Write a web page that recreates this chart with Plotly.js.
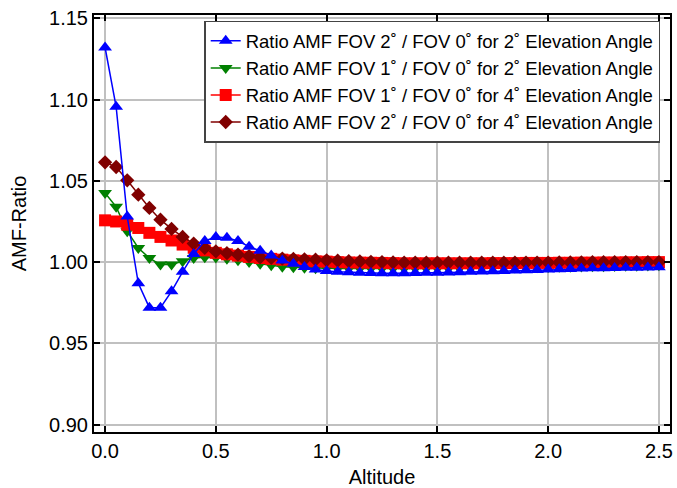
<!DOCTYPE html>
<html>
<head>
<meta charset="utf-8">
<script src="https://cdn.plot.ly/plotly-3.0.1.min.js"></script>
<style>html,body{margin:0;padding:0;background:#fff;}#chart{width:677px;height:488px;}</style>
</head>
<body>
<div id="chart"></div>
<script>
var altitude = [0.00,0.05,0.10,0.15,0.20,0.25,0.30,0.35,0.40,0.45,0.50,0.55,0.60,0.65,0.70,0.75,0.80,0.85,0.90,0.95,1.00,1.05,1.10,1.15,1.20,1.25,1.30,1.35,1.40,1.45,1.50,1.55,1.60,1.65,1.70,1.75,1.80,1.85,1.90,1.95,2.00,2.05,2.10,2.15,2.20,2.25,2.30,2.35,2.40,2.45,2.50];

var fov2_el2 = [1.132,1.0955,1.028,0.987,0.972,0.972,0.982,0.994,1.005,1.013,1.0155,1.015,1.013,1.0095,1.007,1.004,1.001,0.999,0.997,0.9955,0.9945,0.994,0.9937,0.9935,0.9933,0.9932,0.9932,0.9932,0.9933,0.9934,0.9935,0.9936,0.9938,0.994,0.9942,0.9944,0.9946,0.9948,0.995,0.9952,0.9954,0.9956,0.9958,0.996,0.9962,0.9963,0.9964,0.9965,0.9966,0.9967,0.9968];

var fov1_el2 = [1.0425,1.034,1.019,1.0087,1.0025,0.9985,0.9985,1.0005,1.0025,1.003,1.0028,1.002,1.0012,1.0,0.999,0.998,0.9972,0.9968,0.9965,0.9963,0.9962,0.9961,0.996,0.996,0.996,0.996,0.996,0.996,0.996,0.996,0.996,0.9961,0.9962,0.9963,0.9964,0.9965,0.9966,0.9967,0.9968,0.9969,0.997,0.9971,0.9972,0.9973,0.9974,0.9975,0.9976,0.9977,0.9978,0.9979,0.998];

var fov1_el4 = [1.0257,1.025,1.023,1.021,1.018,1.0155,1.0133,1.0108,1.0088,1.0072,1.0057,1.0048,1.004,1.0032,1.0025,1.002,1.0015,1.0011,1.0008,1.0005,1.0003,1.0,0.9998,0.9997,0.9996,0.9995,0.9994,0.9993,0.9993,0.9993,0.9993,0.9993,0.9993,0.9993,0.9993,0.9994,0.9994,0.9994,0.9995,0.9995,0.9995,0.9996,0.9996,0.9997,0.9997,0.9998,0.9998,0.9999,0.9999,1.0,1.0];

var fov2_el4 = [1.0614,1.0585,1.0503,1.0415,1.0333,1.0261,1.0204,1.0155,1.0114,1.0087,1.0066,1.0055,1.0046,1.0037,1.003,1.0026,1.0022,1.002,1.0017,1.0015,1.0011,1.0009,1.0006,1.0004,1.0002,1.0,0.9998,0.9997,0.9997,0.9996,0.9996,0.9996,0.9996,0.9996,0.9996,0.9996,0.9996,0.9997,0.9997,0.9997,0.9997,0.9998,0.9998,0.9998,0.9999,0.9999,0.9999,1.0,1.0,1.0,1.0];

var seriesNames = [
  "Ratio AMF FOV 2˚ / FOV 0˚ for 2˚ Elevation Angle",
  "Ratio AMF FOV 1˚ / FOV 0˚ for 2˚ Elevation Angle",
  "Ratio AMF FOV 1˚ / FOV 0˚ for 4˚ Elevation Angle",
  "Ratio AMF FOV 2˚ / FOV 0˚ for 4˚ Elevation Angle"
];

function tr(y, name, color, symbol, size, rank) {
  return {
    x: altitude, y: y, name: name, type: 'scatter', mode: 'lines+markers',
    line: {color: color, width: 1.5},
    marker: {color: color, symbol: symbol, size: size},
    legendrank: rank
  };
}

var data = [
  tr(fov1_el2, seriesNames[1], '#008000', 'triangle-down', 12, 2),
  tr(fov1_el4, seriesNames[2], '#ff0000', 'square', 12, 3),
  tr(fov2_el4, seriesNames[3], '#800000', 'diamond', 11, 4),
  tr(fov2_el2, seriesNames[0], '#0000ff', 'triangle-up', 12, 1)
];

var axisCommon = {
  showline: true, linecolor: '#000', linewidth: 2, mirror: 'ticks',
  ticks: 'inside', ticklen: 6, tickwidth: 2, tickcolor: '#000',
  showgrid: true, gridcolor: '#c0c0c0', gridwidth: 2, zeroline: false,
  tickfont: {family: 'Liberation Sans, Arial, sans-serif', size: 20, color: '#000'}
};

var layout = {
  width: 677, height: 488,
  margin: {l: 94, r: 7, t: 15, b: 56},
  paper_bgcolor: '#fff', plot_bgcolor: '#fff',
  font: {family: 'Liberation Sans, Arial, sans-serif', color: '#000'},
  showlegend: true,
  legend: {
    x: 0.983, y: 0.986, xanchor: 'right', yanchor: 'top',
    bgcolor: '#fff', bordercolor: '#444', borderwidth: 1.5,
    font: {family: 'Liberation Sans, Arial, sans-serif', size: 18.5, color: '#000'}
  },
  xaxis: Object.assign({}, axisCommon, {
    range: [-0.05, 2.55], dtick: 0.5, tick0: 0, tickformat: '.1f',
    title: {text: 'Altitude', font: {size: 20, family: 'Liberation Sans, Arial, sans-serif'}, standoff: 10}
  }),
  yaxis: Object.assign({}, axisCommon, {
    range: [0.8955, 1.152], dtick: 0.05, tick0: 0.9, tickformat: '.2f',
    title: {text: 'AMF-Ratio', font: {size: 20, family: 'Liberation Sans, Arial, sans-serif'}, standoff: 17}
  })
};

Plotly.newPlot('chart', data, layout, {displayModeBar: false, staticPlot: true});
</script>
</body>
</html>
